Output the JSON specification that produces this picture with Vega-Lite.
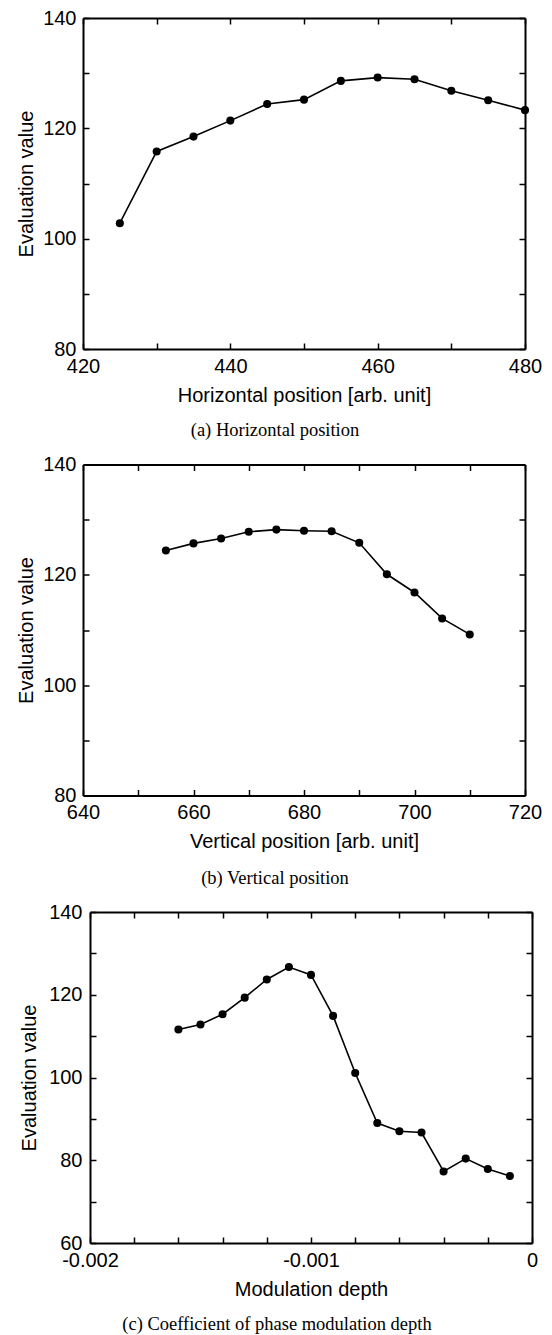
{
  "$schema": "https://vega.github.io/schema/vega-lite/v6.json",
  "padding": {"left": 16, "top": 8, "right": 5, "bottom": 0},
  "background": "white",
  "config": {
    "view": {"stroke": null},
    "font": "Liberation Sans",
    "axis": {
      "grid": false,
      "domainColor": "black",
      "domainWidth": 2,
      "tickColor": "black",
      "tickWidth": 1.5,
      "tickSize": -6,
      "labelFont": "Liberation Sans",
      "labelFontSize": 20,
      "labelColor": "black",
      "labelFlush": false,
      "labelOverlap": false,
      "titleFont": "Liberation Sans",
      "titleFontSize": 20,
      "titleFontWeight": "normal",
      "titleColor": "black"
    },
    "axisX": {"labelPadding": 13, "titlePadding": 9},
    "axisY": {"labelPadding": 13, "titlePadding": 6.5},
    "title": {"font": "Liberation Serif", "fontSize": 18.5, "fontWeight": "normal", "color": "black", "orient": "bottom", "anchor": "middle", "offset": 16, "dx": -29}
  },
  "spacing": 14.5,
  "vconcat": [
    {
      "width": 442,
      "height": 331,
      "title": {"text": "(a) Horizontal position"},
      "data": {"values": [
        {"x": 425, "y": 102.8}, {"x": 430, "y": 115.8}, {"x": 435, "y": 118.5}, {"x": 440, "y": 121.4},
        {"x": 445, "y": 124.4}, {"x": 450, "y": 125.2}, {"x": 455, "y": 128.6}, {"x": 460, "y": 129.2},
        {"x": 465, "y": 128.9}, {"x": 470, "y": 126.8}, {"x": 475, "y": 125.1}, {"x": 480, "y": 123.3}
      ]},
      "layer": [
        {
          "mark": {"type": "line", "color": "black", "strokeWidth": 1.6},
          "encoding": {
            "x": {"field": "x", "type": "quantitative", "scale": {"domain": [420, 480], "nice": false},
              "axis": {"orient": "bottom", "values": [420, 430, 440, 450, 460, 470, 480], "labelExpr": "datum.value % 20 === 0 ? datum.label : ''", "title": "Horizontal position [arb. unit]"}},
            "y": {"field": "y", "type": "quantitative", "scale": {"domain": [80, 140], "nice": false, "zero": false},
              "axis": {"orient": "left", "values": [80, 90, 100, 110, 120, 130, 140], "labelExpr": "datum.value % 20 === 0 ? datum.label : ''", "title": "Evaluation value"}}
          }
        },
        {
          "mark": {"type": "point", "filled": true, "color": "black", "size": 65, "opacity": 1},
          "encoding": {
            "x": {"field": "x", "type": "quantitative",
              "axis": {"orient": "top", "values": [420, 430, 440, 450, 460, 470, 480], "labels": false, "title": null}},
            "y": {"field": "y", "type": "quantitative",
              "axis": {"orient": "right", "values": [80, 90, 100, 110, 120, 130, 140], "labels": false, "title": null}}
          }
        }
      ]
    },
    {
      "width": 442,
      "height": 331,
      "title": {"text": "(b) Vertical position", "offset": 17},
      "data": {"values": [
        {"x": 655, "y": 124.4}, {"x": 660, "y": 125.7}, {"x": 665, "y": 126.6}, {"x": 670, "y": 127.8},
        {"x": 675, "y": 128.2}, {"x": 680, "y": 128.0}, {"x": 685, "y": 127.9}, {"x": 690, "y": 125.8},
        {"x": 695, "y": 120.1}, {"x": 700, "y": 116.8}, {"x": 705, "y": 112.1}, {"x": 710, "y": 109.2}
      ]},
      "layer": [
        {
          "mark": {"type": "line", "color": "black", "strokeWidth": 1.6},
          "encoding": {
            "x": {"field": "x", "type": "quantitative", "scale": {"domain": [640, 720], "nice": false},
              "axis": {"orient": "bottom", "values": [640, 650, 660, 670, 680, 690, 700, 710, 720], "labelExpr": "datum.value % 20 === 0 ? datum.label : ''", "title": "Vertical position [arb. unit]"}},
            "y": {"field": "y", "type": "quantitative", "scale": {"domain": [80, 140], "nice": false, "zero": false},
              "axis": {"orient": "left", "values": [80, 90, 100, 110, 120, 130, 140], "labelExpr": "datum.value % 20 === 0 ? datum.label : ''", "title": "Evaluation value"}}
          }
        },
        {
          "mark": {"type": "point", "filled": true, "color": "black", "size": 65, "opacity": 1},
          "encoding": {
            "x": {"field": "x", "type": "quantitative",
              "axis": {"orient": "top", "values": [640, 650, 660, 670, 680, 690, 700, 710, 720], "labels": false, "title": null}},
            "y": {"field": "y", "type": "quantitative",
              "axis": {"orient": "right", "values": [80, 90, 100, 110, 120, 130, 140], "labels": false, "title": null}}
          }
        }
      ]
    },
    {
      "width": 449,
      "height": 331,
      "title": {"text": "(c) Coefficient of phase modulation depth", "dx": -30.5},
      "data": {"values": [
        {"x": -0.0016, "y": 111.6}, {"x": -0.0015, "y": 112.8}, {"x": -0.0014, "y": 115.3}, {"x": -0.0013, "y": 119.3},
        {"x": -0.0012, "y": 123.7}, {"x": -0.0011, "y": 126.7}, {"x": -0.0010, "y": 124.8}, {"x": -0.0009, "y": 114.9},
        {"x": -0.0008, "y": 101.1}, {"x": -0.0007, "y": 89.0}, {"x": -0.0006, "y": 87.0}, {"x": -0.0005, "y": 86.7},
        {"x": -0.0004, "y": 77.3}, {"x": -0.0003, "y": 80.4}, {"x": -0.0002, "y": 77.9}, {"x": -0.0001, "y": 76.2}
      ]},
      "layer": [
        {
          "mark": {"type": "line", "color": "black", "strokeWidth": 1.6},
          "encoding": {
            "x": {"field": "x", "type": "quantitative", "scale": {"domain": [-0.002, 0], "nice": false, "zero": false, "range": [7, 449]},
              "axis": {"orient": "bottom", "values": [-0.002, -0.0018, -0.0016, -0.0014, -0.0012, -0.001, -0.0008, -0.0006, -0.0004, -0.0002, 0], "labelExpr": "abs(datum.value + 0.002) < 1e-9 ? '-0.002' : abs(datum.value + 0.001) < 1e-9 ? '-0.001' : abs(datum.value) < 1e-9 ? '0' : ''", "title": "Modulation depth"}},
            "y": {"field": "y", "type": "quantitative", "scale": {"domain": [60, 140], "nice": false, "zero": false},
              "axis": {"orient": "left", "offset": -7, "values": [60, 70, 80, 90, 100, 110, 120, 130, 140], "labelExpr": "datum.value % 20 === 0 ? datum.label : ''", "title": "Evaluation value", "labelPadding": 14, "titlePadding": 9.2}}
          }
        },
        {
          "mark": {"type": "point", "filled": true, "color": "black", "size": 65, "opacity": 1},
          "encoding": {
            "x": {"field": "x", "type": "quantitative",
              "axis": {"orient": "top", "values": [-0.002, -0.0018, -0.0016, -0.0014, -0.0012, -0.001, -0.0008, -0.0006, -0.0004, -0.0002, 0], "labels": false, "title": null}},
            "y": {"field": "y", "type": "quantitative",
              "axis": {"orient": "right", "values": [60, 70, 80, 90, 100, 110, 120, 130, 140], "labels": false, "title": null}}
          }
        }
      ]
    }
  ]
}
